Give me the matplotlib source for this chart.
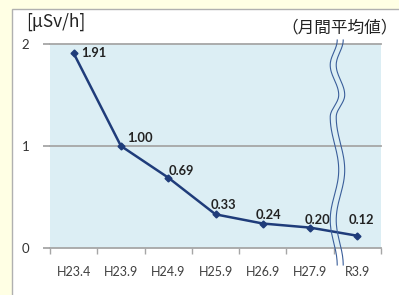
import numpy as np
import matplotlib.pyplot as plt
from matplotlib.patches import Rectangle

periods = ['H23.4', 'H23.9', 'H24.9', 'H25.9', 'H26.9', 'H27.9', 'R3.9']
dose = [1.91, 1.00, 0.69, 0.33, 0.24, 0.20, 0.12]
labels = ['1.91', '1.00', '0.69', '0.33', '0.24', '0.20', '0.12']
label_offsets = [(20, 0), (19, 8), (13, 7), (8, 9), (6, 9), (7, 8), (4, 16)]

navy = '#1F3C7A'
grid_gray = '#A6A6A6'

fig = plt.figure(figsize=(3.99, 2.95), dpi=100, facecolor='#FFFFE4')
W, H = 399, 295

# white panel with gray frame
fig.patches.append(Rectangle((12 / W, -0.01), 1, 1.01 - 9 / H, transform=fig.transFigure,
                             facecolor='white', edgecolor='#B0B0B0', linewidth=1, zorder=-1))

ax = fig.add_axes([50 / W, 47 / H, 331 / W, 204 / H])
ax.set_facecolor('#DCEEF4')
ax.set_xlim(-0.5, len(periods) - 0.5)
ax.set_ylim(0, 2)

x = np.arange(len(periods))
for yv in [1, 2]:
    ax.axhline(yv, color=grid_gray, lw=1.3, zorder=1, clip_on=False)
ax.plot(x, dose, color=navy, lw=1.8, marker='D', ms=3.5, zorder=3)

for xi, yi, t, (dx, dy) in zip(x, dose, labels, label_offsets):
    ax.annotate(t, (xi, yi), xytext=(dx, dy), textcoords='offset pixels',
                ha='center', va='center', fontsize=9.3, fontweight='bold',
                family='Lato', color='#222222')

for s in ['top', 'right', 'left']:
    ax.spines[s].set_visible(False)
ax.spines['bottom'].set_color(grid_gray)
ax.spines['bottom'].set_linewidth(1.3)

ax.set_xticks(np.arange(len(periods) + 1) - 0.5)
ax.set_xticklabels([])
ax.set_xticks(x, minor=True)
ax.set_xticklabels(periods, minor=True, fontsize=9, family='Lato', color='#404040')
ax.tick_params(axis='x', which='major', length=4, color=grid_gray, width=1)
ax.tick_params(axis='x', which='minor', length=0, pad=13)

ax.set_yticks([0, 1, 2])
ax.set_yticklabels(['0', '1', '2'], fontsize=9.5, family='Lato', color='#333333')
ax.tick_params(axis='y', length=5, color=grid_gray, width=1.3, pad=10)

# wavy break mark between H27.9 and R3.9 (knots in pixels: y from top, x swing)
knot_y = np.array([40, 65, 95, 117, 170, 220, 265])
knot_dx = np.array([2.5, -4.5, 4, -4.5, 4, -4.5, 2.5])
ys, dxs = [], []
for i in range(len(knot_y) - 1):
    t = np.linspace(0, 1, 30)
    w = (1 - np.cos(np.pi * t)) / 2
    ys.append(knot_y[i] + (knot_y[i + 1] - knot_y[i]) * t)
    dxs.append(knot_dx[i] + (knot_dx[i + 1] - knot_dx[i]) * w)
ys = np.concatenate(ys)
dxs = np.concatenate(dxs)
px_per_cat = 331 / len(periods)
tr = ax.get_xaxis_transform()
for off in (-3, 3):
    ax.plot(5.5 + (4 + off + dxs) / px_per_cat, (248 - ys) / 204,
            color='#3A5E9A', lw=0.8, transform=tr, clip_on=False, zorder=4)

fig.text(26 / W, 1 - 22 / H, '[μSv/h]', fontsize=12.5, family=['Noto Sans CJK JP', 'DejaVu Sans'],
         va='center', ha='left', color='#222222')
fig.text(1 - 1 / W, 1 - 28 / H, '（月間平均値）', fontsize=12, family=['Noto Sans CJK JP', 'DejaVu Sans'],
         va='center', ha='right', color='#222222')

fig.savefig('out.png', dpi=100, facecolor=fig.get_facecolor())
